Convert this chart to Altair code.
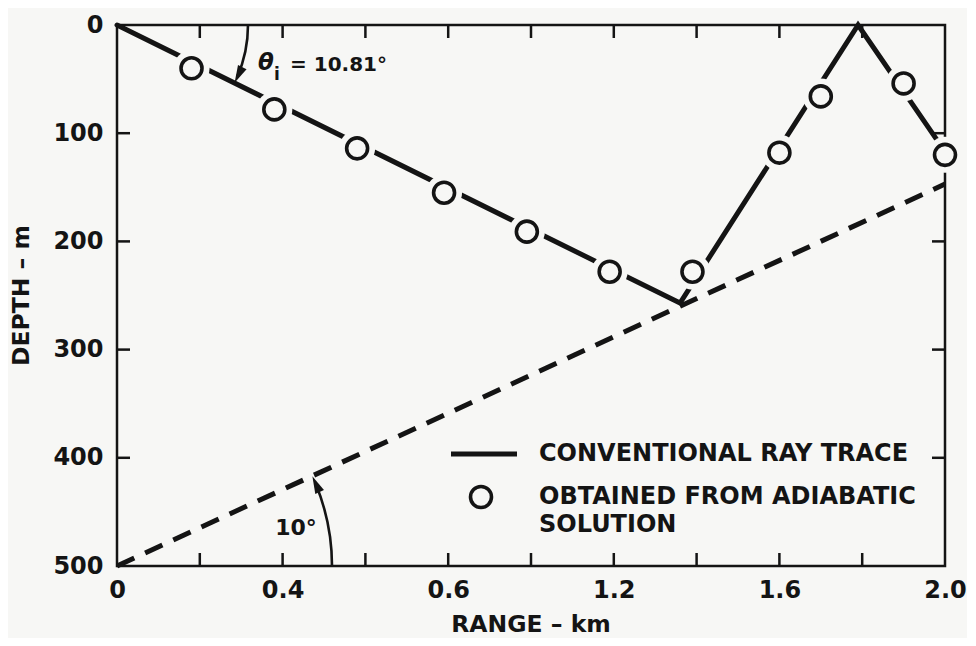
import math
import pandas as pd
import altair as alt

# ---------------- data ----------------
ray_range = [0.0, 1.36, 1.79, 2.0]          # km, conventional ray trace vertices
ray_depth = [0, 257, 0, 117]                # m
adi_range = [0.18, 0.38, 0.58, 0.79, 0.99, 1.19, 1.39, 1.60, 1.70, 1.90, 2.00]
adi_depth = [40, 78, 114, 155, 191, 228, 228, 118, 66, 54, 120]
bottom_range = [0.0, 2.0]                    # sloping bottom (10 deg)
bottom_depth = [500, 147]
x_label_values = [0, 0.4, 0.8, 1.2, 1.6, 2.0]
x_label_texts = ["0", "0.4", "0.6", "1.2", "1.6", "2.0"]
x_minor_ticks = [0.2, 0.4, 0.6, 0.8, 1.0, 1.2, 1.4, 1.6, 1.8]
y_label_values = [0, 100, 200, 300, 400, 500]
y_inner_ticks = [100, 200, 300, 400]

# ---------------- styling ----------------
W, H = 828, 541
INK = "#141414"
BG = "#f7f7f5"
FONT = "DejaVu Sans"

xs = alt.Scale(domain=[0, 2.0], nice=False, zero=False)
ys = alt.Scale(domain=[0, 500], reverse=True, nice=False, zero=False)

label_expr = " : ".join(
    f"abs(datum.value - {v}) < 0.01 ? '{t}'" for v, t in zip(x_label_values, x_label_texts)
) + " : ''"

x_axis = alt.Axis(values=x_label_values, labelExpr=label_expr, ticks=False, domain=False,
                  grid=False, title=None, labelFont=FONT, labelFontSize=24, labelFontWeight="bold",
                  labelColor=INK, labelPadding=12, labelOverlap=False, labelFlush=False)
y_axis = alt.Axis(values=y_label_values, ticks=False, domain=False, grid=False, title=None,
                  labelFont=FONT, labelFontSize=24, labelFontWeight="bold", labelColor=INK,
                  labelPadding=14, labelOverlap=False, labelFlush=False, labelBaseline="middle")


def X(f="x"):
    return alt.X(f"{f}:Q", scale=xs, axis=x_axis)


def Y(f="y"):
    return alt.Y(f"{f}:Q", scale=ys, axis=y_axis)


ray_df = pd.DataFrame({"x": ray_range, "y": ray_depth, "o": range(len(ray_range))})
adi_df = pd.DataFrame({"x": adi_range, "y": adi_depth})
bot_df = pd.DataFrame({"x": bottom_range, "y": bottom_depth, "o": range(len(bottom_range))})
xt_df = pd.DataFrame({"x": x_minor_ticks})
yt_df = pd.DataFrame({"y": y_inner_ticks})
one = pd.DataFrame({"k": [0]})

bottom_line = alt.Chart(bot_df).mark_line(color=INK, strokeWidth=5, strokeDash=[19, 12]).encode(
    x=X(), y=Y(), order="o:Q")
ray_line = alt.Chart(ray_df).mark_line(color=INK, strokeWidth=5, strokeCap="round").encode(
    x=X(), y=Y(), order="o:Q")
halo = alt.Chart(adi_df).mark_point(shape="circle", filled=True, color=BG, size=1300, opacity=1).encode(
    x=X(), y=Y())
circles = alt.Chart(adi_df).mark_point(shape="circle", filled=True, fill=BG, stroke=INK, strokeWidth=3.6,
                                       size=440, opacity=1).encode(x=X(), y=Y())

TL = 13
tick_style = dict(color=INK, strokeWidth=2.5)
t_bottom = alt.Chart(xt_df).mark_rule(**tick_style).encode(x=X(), y=alt.value(H), y2=alt.value(H - TL))
t_top = alt.Chart(xt_df).mark_rule(**tick_style).encode(x=X(), y=alt.value(0), y2=alt.value(TL))
t_left = alt.Chart(yt_df).mark_rule(**tick_style).encode(y=Y(), x=alt.value(0), x2=alt.value(TL))
t_right = alt.Chart(yt_df).mark_rule(**tick_style).encode(y=Y(), x=alt.value(W), x2=alt.value(W - TL))

# --- angle annotations (arcs centred on the ray origin and on the bottom origin) ---
phi = math.atan((ray_depth[1] * H / 500) / (ray_range[1] * W / 2.0))          # ray angle on screen
psi = math.atan(((bottom_depth[0] - bottom_depth[1]) * H / 500) / (bottom_range[1] * W / 2.0))
R1, R2, AL = 131, 215, 9
arrow_path = "M-0.55,-1L0.55,-1L0,1Z"

tip1 = (R1 * math.cos(phi), R1 * math.sin(phi))
c1 = (tip1[0] + AL * math.sin(phi), tip1[1] - AL * math.cos(phi))
arc1 = alt.Chart(one).mark_arc(theta=math.pi / 2, theta2=math.pi / 2 + phi - 0.05,
                               radius=R1 + 1.3, radius2=R1 - 1.3, color=INK).encode(
    x=alt.value(0), y=alt.value(0))
head1 = alt.Chart(one).mark_point(shape=arrow_path, filled=True, fill=INK, size=300, opacity=1,
                                  angle=math.degrees(phi)).encode(x=alt.value(c1[0]), y=alt.value(c1[1]))

tip2 = (R2 * math.cos(psi), H - R2 * math.sin(psi))
c2 = (tip2[0] + AL * math.sin(psi), tip2[1] + AL * math.cos(psi))
arc2 = alt.Chart(one).mark_arc(theta=math.pi / 2 - psi + 0.04, theta2=math.pi / 2,
                               radius=R2 + 1.3, radius2=R2 - 1.3, color=INK).encode(
    x=alt.value(0), y=alt.value(H))
head2 = alt.Chart(one).mark_point(shape=arrow_path, filled=True, fill=INK, size=300, opacity=1,
                                  angle=180 - math.degrees(psi)).encode(x=alt.value(c2[0]), y=alt.value(c2[1]))


def txt(s, x, y, size=22, align="left", style="normal", angle=0, weight="bold"):
    return alt.Chart(one).mark_text(text=s, font=FONT, fontSize=size, fontWeight=weight, fontStyle=style,
                                    align=align, baseline="middle", color=INK, angle=angle).encode(
        x=alt.value(x), y=alt.value(y))


texts = [
    txt("θ", 141, 38, size=23, style="italic"),
    txt("i", 157, 50, size=17),
    txt("= 10.81°", 173, 40, size=20),
    txt("10°", 179, 503, size=22, align="center"),
    txt("CONVENTIONAL RAY TRACE", 422, 429, size=24),
    txt("OBTAINED FROM ADIABATIC", 422, 472, size=24),
    txt("SOLUTION", 422, 500, size=24),
    txt("DEPTH – m", -95, H / 2, size=23.5, align="center", angle=270),
    txt("RANGE – km", W / 2, 600, size=23.5, align="center"),
]

leg_line = alt.Chart(one).mark_rule(color=INK, strokeWidth=5).encode(
    x=alt.value(334), x2=alt.value(400), y=alt.value(429))
leg_circle = alt.Chart(one).mark_point(shape="circle", filled=True, fill=BG, stroke=INK, strokeWidth=3.6,
                                       size=440, opacity=1).encode(x=alt.value(364), y=alt.value(472))

chart = alt.layer(
    bottom_line, ray_line, halo, circles, t_bottom, t_top, t_left, t_right,
    arc1, head1, arc2, head2, leg_line, leg_circle, *texts
).properties(
    width=W, height=H,
    autosize=alt.AutoSizeParams(type="none"),
    padding={"left": 109, "top": 17, "right": 22, "bottom": 72},
    background=BG,
).configure_view(stroke=INK, strokeWidth=2.5)

chart.save("out.html", embed_options={"renderer": "svg", "actions": False})
